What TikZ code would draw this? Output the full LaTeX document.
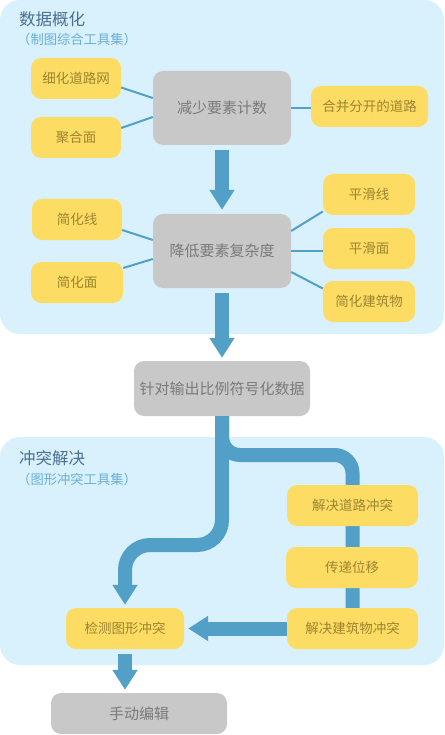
\documentclass[tikz,border=0pt]{standalone}
\usepackage{fontspec}
\setmainfont{Noto Sans CJK SC}
\usetikzlibrary{arrows.meta,backgrounds}

\definecolor{panelblue}{HTML}{D9F1FD}
\definecolor{flowblue}{HTML}{52A0C8}
\definecolor{boxyellow}{HTML}{FDDC64}
\definecolor{boxgray}{HTML}{C8C8C8}
\definecolor{yellowtext}{HTML}{9C8530}
\definecolor{graytext}{HTML}{7A7A7A}
\definecolor{titleblue}{HTML}{4A7090}
\definecolor{subblue}{HTML}{6AAFD8}

\begin{document}
\begin{tikzpicture}[x=1pt,y=-1pt,
    tool/.style={fill=boxyellow,rounded corners=10pt,text=yellowtext,inner sep=0pt,
        minimum height=41pt,font=\fontsize{13.5}{16}\selectfont},
    stage/.style={fill=boxgray,rounded corners=10pt,text=graytext,inner sep=0pt,
        font=\fontsize{15}{18}\selectfont},
    title/.style={anchor=west,inner sep=0pt,text=titleblue,font=\fontsize{16.5}{19}\selectfont},
    subtitle/.style={anchor=west,inner sep=0pt,text=subblue,font=\fontsize{13.3}{15}\selectfont},
    link/.style={draw=flowblue,line width=2pt},
    band/.style={draw=flowblue,line width=14pt},
    flow/.style={band,-{Triangle[width=24pt,length=20pt]}}]
    \useasboundingbox (0,0) rectangle (444,735);

    % titles
    \node[title] (gentitle) at (19,19) {数据概化};
    \node[subtitle] (gensub) at (17,39) {（制图综合工具集）};
    \node[title] (contitle) at (19,458) {冲突解决};
    \node[subtitle] (consub) at (17,479) {（图形冲突工具集）};

    % data generalization
    \node[tool,minimum width=90pt] (thin) at (76,78.5) {细化道路网};
    \node[tool,minimum width=90pt] (aggr) at (76,137.5) {聚合面};
    \node[stage,minimum width=138pt,minimum height=74pt] (reduce) at (222,108) {减少要素计数};
    \node[tool,minimum width=117pt] (merge) at (369.5,106.5) {合并分开的道路};

    \node[tool,minimum width=90pt] (simpline) at (77,219.5) {简化线};
    \node[tool,minimum width=92pt] (simparea) at (77,282.5) {简化面};
    \node[stage,minimum width=138pt,minimum height=74pt] (lower) at (222,251) {降低要素复杂度};
    \node[tool,minimum width=92pt] (smline) at (369,194.5) {平滑线};
    \node[tool,minimum width=92pt] (smarea) at (369,248.5) {平滑面};
    \node[tool,minimum width=92pt] (simpbld) at (369,301.5) {简化建筑物};

    \node[stage,minimum width=176pt,minimum height=55pt] (sym) at (222,388.5) {针对输出比例符号化数据};

    % conflict resolution
    \node[tool,minimum width=131pt] (road) at (352.5,505.5) {解决道路冲突};
    \node[tool,minimum width=132pt] (disp) at (352,567.5) {传递位移};
    \node[tool,minimum width=131pt] (bldc) at (352.5,628.5) {解决建筑物冲突};
    \node[tool,minimum width=118pt] (detect) at (125,628.5) {检测图形冲突};
    \node[stage,minimum width=176pt,minimum height=41pt] (manual) at (139,713.5) {手动编辑};

    \coordinate (bendR) at (222,455);
    \coordinate (bendL) at (222,545);

    \begin{scope}[on background layer]
        \fill[panelblue,rounded corners=20pt] (0,0) rectangle (444,334);
        \fill[panelblue,rounded corners=20pt] (0,437) rectangle (444,665);
        \draw[band,rounded corners=18pt] (sym.south) -- (bendR) -| (bldc.center);
    \end{scope}

    % thin links
    \draw[link] ([yshift=-9pt]thin.east) -- ([yshift=10pt]reduce.west);
    \draw[link] ([yshift=9.5pt]aggr.east) -- ([yshift=-9pt]reduce.west);
    \draw[link] (reduce.east) -- (reduce.east -| merge.west);
    \draw[link] ([yshift=-10.5pt]simpline.east) -- ([yshift=11pt]lower.west);
    \draw[link] ([yshift=14.5pt]simparea.east) -- ([yshift=-8pt]lower.west);
    \draw[link] ([yshift=20pt]lower.east) -- ([yshift=-17pt]smline.west);
    \draw[link] (lower.east) -- (lower.east -| smarea.west);
    \draw[link] ([yshift=-21pt]lower.east) -- ([yshift=13pt]simpbld.west);

    % flow arrows
    \draw[flow,shorten <=5pt,shorten >=4pt] (reduce) -- (lower);
    \draw[flow,shorten <=5pt,shorten >=3pt] (lower) -- (sym);
    \draw[flow,rounded corners=25pt,shorten >=3pt] (sym.south) -- (bendL) -| (detect.north);
    \draw[flow,shorten >=4pt] (bldc) -- (detect);
    \draw[flow,shorten <=5pt,shorten >=3pt] (detect) -- (detect |- manual.north);
\end{tikzpicture}
\end{document}
